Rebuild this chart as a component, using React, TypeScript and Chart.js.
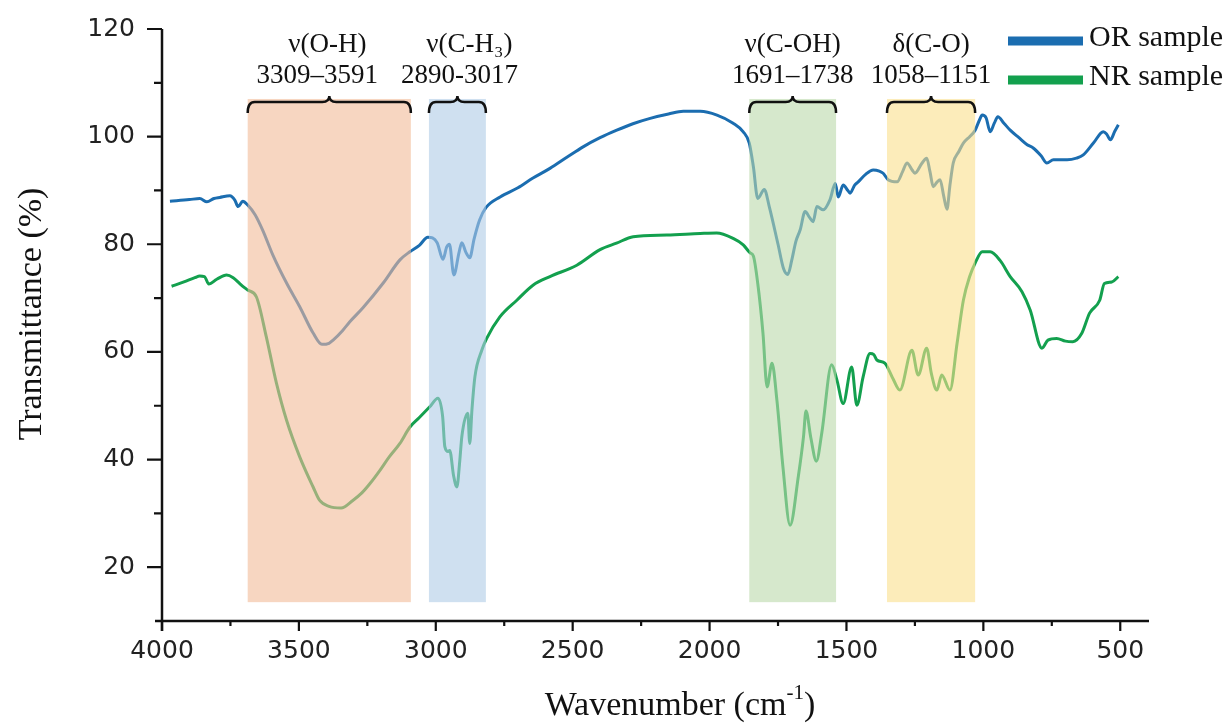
import { useEffect, useRef } from 'react';
import { Chart, registerables } from 'chart.js';

Chart.register(...registerables);

// ---------------- DATA ----------------
const seriesNames = ['OR sample', 'NR sample'];
const seriesColors = ['#1b6db0', '#13a04e'];

const orWavenumbers = [
  3971, 3900, 3862, 3836, 3810, 3789, 3752, 3734, 3722, 3705, 3687, 3660, 3632, 3595, 3545, 3497, 3448, 3416, 3390,
  3375, 3340, 3314, 3266, 3192, 3131, 3095, 3060, 3029, 2995, 2974, 2960, 2950, 2934, 2915, 2905, 2890, 2876, 2860,
  2840, 2817, 2765, 2700, 2645, 2583, 2520, 2462, 2400, 2339, 2280, 2217, 2150, 2096, 2034, 1973, 1914, 1877, 1855,
  1840, 1824, 1800, 1782, 1750, 1730, 1714, 1700, 1685, 1669, 1651, 1635, 1622, 1608, 1585, 1560, 1541, 1530, 1512,
  1495, 1487, 1470, 1457, 1430, 1402, 1380, 1366, 1348, 1315, 1295, 1279, 1260, 1250, 1225, 1207, 1195, 1183, 1170,
  1158, 1145, 1133, 1122, 1110, 1090, 1073, 1050, 1030, 1015, 1004, 990, 975, 960, 947, 925, 902, 870, 840, 818, 790,
  768, 744, 720, 694, 660, 635, 598, 562, 550, 536, 520, 507,
];
const orTransmittance = [
  88.0, 88.3, 88.5, 87.9, 88.5, 88.7, 89.0, 88.2, 87.0, 88.0, 87.3, 85.5, 82.6, 78.0, 72.8, 68.4, 63.5, 61.4, 61.6,
  62.2, 64.0, 65.6, 68.2, 72.8, 77.1, 78.6, 79.8, 81.3, 80.3, 77.2, 79.5, 80.0, 74.3, 78.5, 80.3, 78.5, 77.5, 81.0,
  84.5, 86.8, 88.8, 90.5, 92.3, 94.1, 96.2, 98.1, 99.8, 101.2, 102.4, 103.4, 104.2, 104.7, 104.7, 104.0, 102.5, 100.9,
  98.8, 94.4, 88.5, 90.2, 87.0, 80.0, 75.5, 74.4, 77.0, 80.5, 82.7, 86.1, 85.0, 84.2, 87.0, 86.4, 88.3, 91.3, 88.8,
  91.0, 90.0, 89.5, 91.0, 91.6, 93.0, 93.8, 93.6, 93.2, 92.0, 91.6, 93.5, 95.1, 93.8, 93.2, 95.0, 96.0, 93.5, 90.7,
  91.5, 92.0, 89.0, 86.5, 91.0, 95.1, 97.2, 98.8, 100.0, 101.2, 103.0, 104.0, 103.5, 100.9, 102.5, 103.7, 102.5, 101.2,
  99.8, 98.5, 97.9, 96.5, 95.1, 95.7, 95.7, 95.7, 96.0, 96.6, 98.8, 100.9, 100.5, 99.4, 101.0, 102.2,
];

const nrWavenumbers = [
  3965, 3920, 3880, 3862, 3845, 3829, 3800, 3764, 3740, 3716, 3700, 3687, 3655, 3619, 3582, 3545, 3497, 3448, 3424,
  3390, 3346, 3303, 3270, 3241, 3204, 3170, 3131, 3095, 3060, 3022, 2992, 2975, 2967, 2955, 2949, 2935, 2923, 2912,
  2905, 2883, 2876, 2868, 2857, 2832, 2814, 2766, 2704, 2645, 2583, 2485, 2400, 2340, 2279, 2156, 2034, 1974, 1914,
  1877, 1852, 1840, 1824, 1805, 1790, 1772, 1754, 1732, 1706, 1676, 1657, 1648, 1630, 1610, 1590, 1554, 1535, 1512,
  1481, 1462, 1439, 1414, 1400, 1389, 1360, 1330, 1305, 1261, 1238, 1207, 1190, 1170, 1152, 1122, 1096, 1073, 1050,
  1030, 1004, 975, 939, 902, 859, 829, 786, 764, 732, 700, 673, 641, 612, 575, 558, 531, 507,
];
const nrTransmittance = [
  72.2, 73.0, 73.8, 74.1, 74.0, 72.6, 73.5, 74.3, 73.8, 72.7, 72.0, 71.5, 70.2, 62.8, 54.2, 47.3, 40.5, 34.9, 32.4,
  31.3, 31.0, 32.4, 33.8, 35.5, 38.0, 40.5, 43.0, 46.0, 47.8, 49.8, 51.4, 48.0, 42.4, 41.5, 41.7, 37.0, 34.9, 40.0,
  44.2, 48.6, 43.0, 49.2, 55.4, 60.3, 62.5, 66.5, 69.6, 72.4, 74.0, 76.1, 79.0, 80.2, 81.4, 81.7, 82.0, 82.1, 81.1,
  79.9, 78.4, 77.8, 72.7, 63.5, 53.5, 57.9, 51.0, 38.6, 27.8, 36.8, 44.2, 49.0, 44.0, 39.7, 45.0, 57.6, 54.8, 50.4,
  57.2, 50.1, 55.4, 59.7, 59.5, 58.5, 57.9, 55.0, 52.9, 60.3, 55.7, 60.7, 56.0, 52.9, 55.7, 52.9, 61.6, 69.6, 74.0,
  76.5, 78.6, 78.6, 77.0, 74.0, 71.2, 67.8, 60.7, 62.2, 62.5, 62.0, 61.9, 63.4, 67.2, 69.6, 72.7, 73.0, 74.0,
];

const xTickValues = [4000, 3500, 3000, 2500, 2000, 1500, 1000, 500];
const xMinorTickValues = [3750, 3250, 2750, 2250, 1750, 1250, 750];
const yTickValues = [20, 40, 60, 80, 100, 120];
const yMinorTickValues = [30, 50, 70, 90, 110];

const bandStarts = [3687, 3025, 1855, 1352];
const bandEnds = [3091, 2817, 1538, 1030];
const bandTopValue = 107;
const bandBottomValue = 13.5;
const bandNames = ['ν(O-H)', 'ν(C-H₃)', 'ν(C-OH)', 'δ(C-O)'];
const bandRanges = ['3309–3591', '2890-3017', '1691–1738', '1058–1151'];
const bandColors = ['rgb(242,187,152)', 'rgb(175,203,230)', 'rgb(187,217,170)', 'rgb(250,223,140)'];

const X_MIN = 395;
const X_MAX = 4000;
const Y_MIN = 10;
const Y_MAX = 120;

// ---------------- DRAWING HELPERS ----------------
const SERIF = '"Liberation Serif", "Times New Roman", serif';
const SANS = '"DejaVu Sans", sans-serif';
const nameDx = [-2, 12, 0, 0];
const rangeDx = [-12, 2, 0, 0];

function drawBrace(ctx: CanvasRenderingContext2D, x1: number, x2: number) {
  const xm = (x1 + x2) / 2;
  const r = 7;
  const yTip = 96;
  const yLine = 102;
  const yEnd = 113;
  ctx.beginPath();
  ctx.moveTo(x1, yEnd);
  ctx.quadraticCurveTo(x1, yLine, x1 + r, yLine);
  ctx.lineTo(xm - r, yLine);
  ctx.quadraticCurveTo(xm, yLine, xm, yTip);
  ctx.quadraticCurveTo(xm, yLine, xm + r, yLine);
  ctx.lineTo(x2 - r, yLine);
  ctx.quadraticCurveTo(x2, yLine, x2, yEnd);
  ctx.stroke();
}

const overlayPlugin = {
  id: 'ftirOverlay',
  afterDatasetsDraw(chart: any) {
    const { ctx, scales } = chart;
    const xs = scales.x;
    const ys = scales.y;
    ctx.save();
    ctx.globalAlpha = 0.6;
    const yTop = ys.getPixelForValue(bandTopValue);
    const yBot = ys.getPixelForValue(bandBottomValue);
    for (let i = 0; i < bandStarts.length; i++) {
      const a = xs.getPixelForValue(bandStarts[i]);
      const b = xs.getPixelForValue(bandEnds[i]);
      ctx.fillStyle = bandColors[i];
      ctx.fillRect(Math.min(a, b), yTop, Math.abs(b - a), yBot - yTop);
    }
    ctx.restore();
  },
  afterDraw(chart: any) {
    const { ctx, scales, chartArea } = chart;
    const xs = scales.x;
    const ys = scales.y;
    ctx.save();

    // axes lines
    ctx.strokeStyle = '#111';
    ctx.lineWidth = 2.5;
    ctx.beginPath();
    ctx.moveTo(chartArea.left, ys.getPixelForValue(Y_MAX));
    ctx.lineTo(chartArea.left, chartArea.bottom + 10);
    ctx.moveTo(chartArea.left - 7, chartArea.bottom);
    ctx.lineTo(chartArea.right, chartArea.bottom);
    ctx.stroke();

    // tick marks
    ctx.lineWidth = 2.2;
    ctx.beginPath();
    yTickValues.forEach((v) => {
      const p = ys.getPixelForValue(v);
      ctx.moveTo(chartArea.left - 15, p);
      ctx.lineTo(chartArea.left, p);
    });
    yMinorTickValues.forEach((v) => {
      const p = ys.getPixelForValue(v);
      ctx.moveTo(chartArea.left - 8, p);
      ctx.lineTo(chartArea.left, p);
    });
    xTickValues.forEach((v) => {
      const p = xs.getPixelForValue(v);
      ctx.moveTo(p, chartArea.bottom);
      ctx.lineTo(p, chartArea.bottom + 10);
    });
    xMinorTickValues.forEach((v) => {
      const p = xs.getPixelForValue(v);
      ctx.moveTo(p, chartArea.bottom);
      ctx.lineTo(p, chartArea.bottom + 5);
    });
    ctx.stroke();

    // braces and band labels
    ctx.lineWidth = 2.5;
    ctx.strokeStyle = '#111';
    ctx.fillStyle = '#111';
    ctx.textAlign = 'center';
    ctx.textBaseline = 'alphabetic';
    ctx.font = `27px ${SERIF}`;
    for (let i = 0; i < bandStarts.length; i++) {
      const a = xs.getPixelForValue(bandStarts[i]);
      const b = xs.getPixelForValue(bandEnds[i]);
      const x1 = Math.min(a, b);
      const x2 = Math.max(a, b);
      drawBrace(ctx, x1, x2);
      const xm = (x1 + x2) / 2;
      ctx.fillText(bandNames[i], xm + nameDx[i], 52);
      ctx.fillText(bandRanges[i], xm + rangeDx[i], 83);
    }

    // y title
    ctx.save();
    ctx.translate(41, 314);
    ctx.rotate(-Math.PI / 2);
    ctx.font = `34px ${SERIF}`;
    ctx.textAlign = 'center';
    ctx.fillText('Transmittance (%)', 0, 0);
    ctx.restore();

    // x title with superscript
    const main1 = 'Wavenumber (cm';
    const sup = '-1';
    const main2 = ')';
    ctx.textAlign = 'left';
    ctx.font = `34px ${SERIF}`;
    const w1 = ctx.measureText(main1).width;
    const w3 = ctx.measureText(main2).width;
    ctx.font = `21px ${SERIF}`;
    const w2 = ctx.measureText(sup).width;
    let sx = 680 - (w1 + w2 + w3) / 2;
    ctx.font = `34px ${SERIF}`;
    ctx.fillText(main1, sx, 715);
    sx += w1;
    ctx.font = `21px ${SERIF}`;
    ctx.fillText(sup, sx, 699);
    sx += w2;
    ctx.font = `34px ${SERIF}`;
    ctx.fillText(main2, sx, 715);

    // legend
    const legendY = [41, 80];
    const textY = [46, 85];
    for (let i = 0; i < seriesNames.length; i++) {
      ctx.strokeStyle = seriesColors[i];
      ctx.lineWidth = 9;
      ctx.lineCap = 'butt';
      ctx.beginPath();
      ctx.moveTo(1008, legendY[i]);
      ctx.lineTo(1083, legendY[i]);
      ctx.stroke();
      ctx.fillStyle = '#111';
      ctx.font = `30px ${SERIF}`;
      ctx.textAlign = 'left';
      ctx.fillText(seriesNames[i], 1089, textY[i]);
    }

    ctx.restore();
  },
};

export default function App() {
  const canvasRef = useRef<HTMLCanvasElement | null>(null);

  useEffect(() => {
    if (!canvasRef.current) return;
    const toPoints = (xs: number[], ys: number[]) => xs.map((x, i) => ({ x, y: ys[i] }));
    const chart = new Chart(canvasRef.current, {
      type: 'line',
      data: {
        datasets: [
          {
            label: seriesNames[0],
            data: toPoints(orWavenumbers, orTransmittance),
            borderColor: seriesColors[0],
            borderWidth: 3,
            pointRadius: 0,
            fill: false,
            cubicInterpolationMode: 'monotone',
          },
          {
            label: seriesNames[1],
            data: toPoints(nrWavenumbers, nrTransmittance),
            borderColor: seriesColors[1],
            borderWidth: 3,
            pointRadius: 0,
            fill: false,
            cubicInterpolationMode: 'monotone',
          },
        ],
      },
      options: {
        responsive: false,
        animation: false,
        devicePixelRatio: 1,
        layout: { padding: { top: 29, right: 82, left: 0, bottom: 0 } },
        plugins: {
          legend: { display: false },
          tooltip: { enabled: false },
          title: { display: false },
        },
        scales: {
          x: {
            type: 'linear',
            min: X_MIN,
            max: X_MAX,
            reverse: true,
            grid: { display: false, drawTicks: false },
            border: { display: false },
            afterBuildTicks: (scale: any) => {
              scale.ticks = xTickValues.map((v) => ({ value: v }));
            },
            afterFit: (scale: any) => {
              scale.height = 103;
              scale.paddingLeft = 0;
              scale.paddingRight = 0;
            },
            ticks: {
              autoSkip: false,
              maxRotation: 0,
              padding: 15,
              color: '#222',
              font: { family: SANS, size: 25 },
              callback: (v: any) => String(v),
            },
          },
          y: {
            type: 'linear',
            min: Y_MIN,
            max: Y_MAX,
            grid: { display: false, drawTicks: false },
            border: { display: false },
            afterBuildTicks: (scale: any) => {
              scale.ticks = yTickValues.map((v) => ({ value: v }));
            },
            afterFit: (scale: any) => {
              scale.width = 162;
              scale.paddingTop = 0;
              scale.paddingBottom = 0;
            },
            ticks: {
              autoSkip: false,
              padding: 27,
              color: '#222',
              font: { family: SANS, size: 25 },
              callback: (v: any) => String(v),
            },
          },
        },
      },
      plugins: [overlayPlugin],
    } as any);
    return () => chart.destroy();
  }, []);

  return (
    <div style={{ position: 'absolute', left: 0, top: 0, width: 1231, height: 724, background: '#fff' }}>
      <canvas ref={canvasRef} width={1231} height={724} style={{ display: 'block' }} />
    </div>
  );
}
